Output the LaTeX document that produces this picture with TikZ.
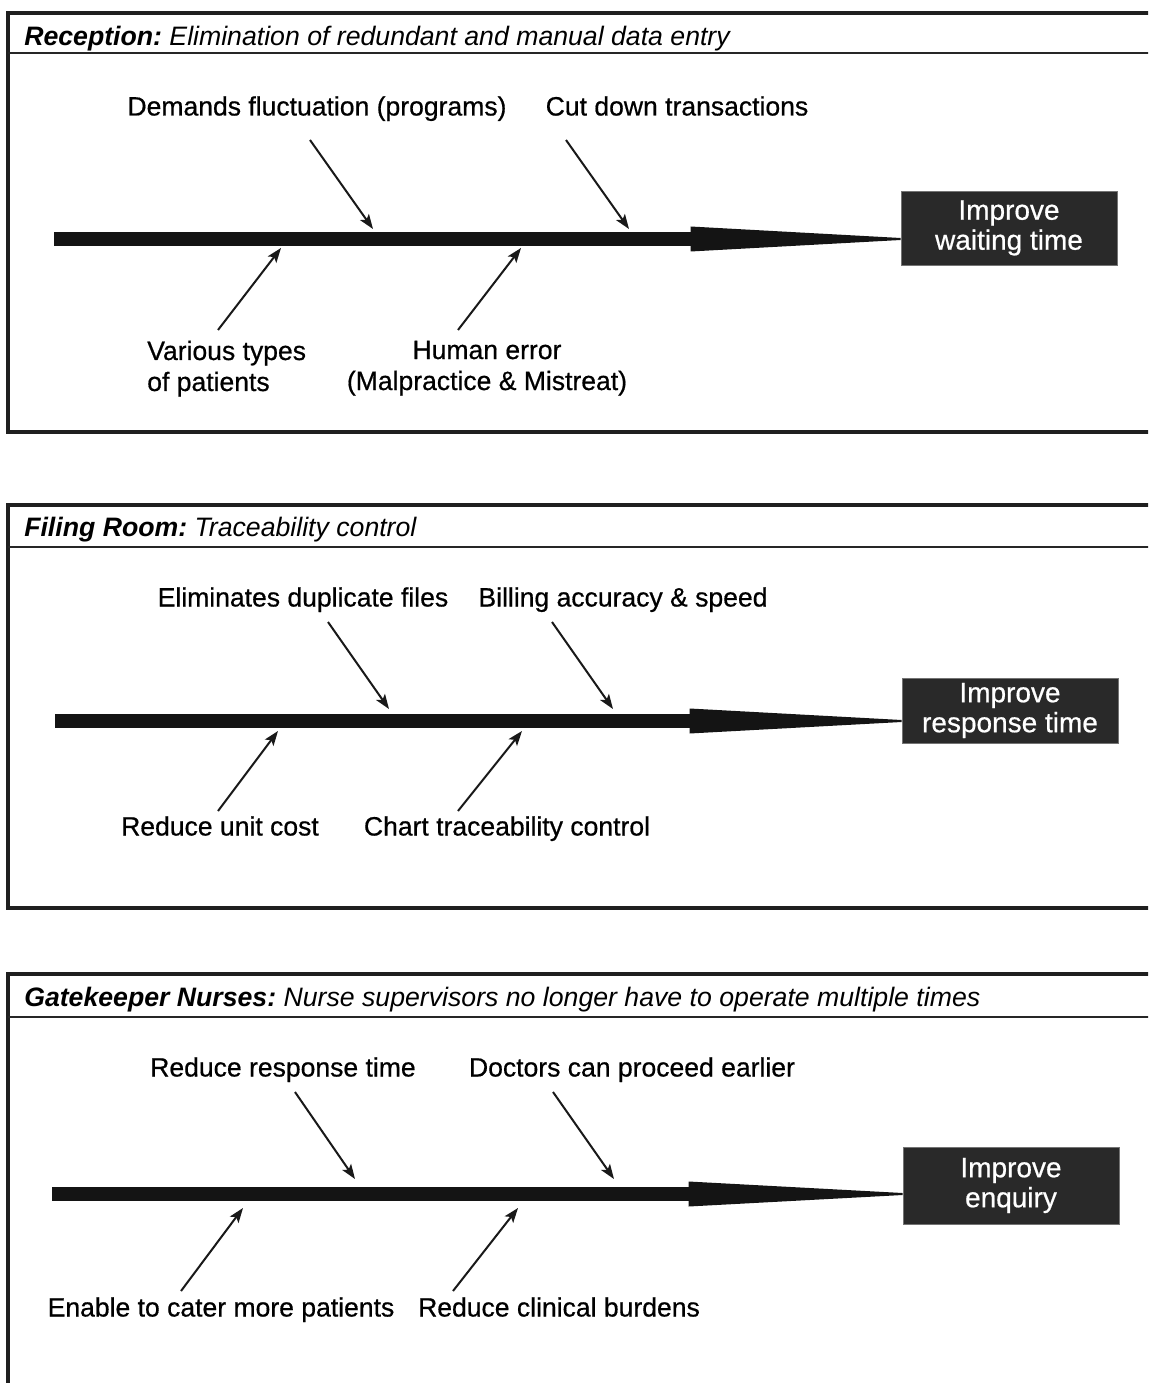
\documentclass[tikz,border=0pt]{standalone}
\usepackage{fontspec}
\setmainfont{Liberation Sans}
\newfontfamily\heavysans[FakeBold=0.6]{Liberation Sans}
\usetikzlibrary{arrows.meta,calc}
\begin{document}
\begin{tikzpicture}[x=0.75pt,y=-0.75pt,
  frame/.style={line width=2.3pt, draw=black!88},
  sepline/.style={line width=1.4pt, draw=black!85},
  ttl/.style={anchor=base west, inner sep=0pt, font=\fontsize{20}{24}\selectfont},
  lbl/.style={anchor=base, inner sep=0pt, font=\heavysans\fontsize{19.9}{23.25}\selectfont},
  lbl2/.style={anchor=north, inner sep=0pt, align=center, font=\heavysans\fontsize{19.9}{23.25}\selectfont},
  goal/.style={fill=black!84, draw=black!55, line width=0.6pt, text=white, align=center,
    inner sep=0pt, minimum width=162pt, font=\heavysans\fontsize{21}{22.5}\selectfont},
  spine/.style={line width=11pt, draw=black!92},
  head/.style={fill=black!92},
  cause/.style={line width=1.5pt, draw=black!90, -{Stealth[length=11pt,width=8pt,inset=2.5pt]}}
]
\clip (0,0) rectangle (1148,1383);
\fill[white] (0,0) rectangle (1148,1383);

% ---------- Panel 1 ----------
\draw[frame] (1160,13) -- (8,13) -- (8,432) -- (1160,432);
\draw[sepline] (8,53) -- (1160,53);
\node[ttl] (t1) at (24,45.5) {\bfseries\itshape Reception:\mdseries\ Elimination of redundant and manual data entry};

\coordinate (s1) at (54,239);
\node[goal, minimum height=55.5pt] (b1) at (1009,228) {Improve\\waiting time};
\coordinate (e1) at (b1.west |- s1);
\draw[spine] (s1) -- ($(e1)+(-208,0)$);
\fill[head] ($(e1)+(-210,-12.5)$) -- ($(e1)+(-210,12.5)$) -- ($(e1)+(0,1)$) -- ($(e1)+(0,-1)$) -- cycle;

\node[lbl] (l11) at (317,115.5) {Demands fluctuation (programs)};
\node[lbl] (l12) at (677,115.5) {Cut down transactions};
\node[lbl2, align=left, anchor=north west] (l13) at (147,340.5) {Various types\\ of patients};
\node[lbl2] (l14) at (487,340.5) {Human error\\(Malpractice \& Mistreat)};
\coordinate (a11) at (310,140); \coordinate (h11) at (373,229);
\coordinate (a12) at (566,140); \coordinate (h12) at (629,229);
\coordinate (a13) at (218,330); \coordinate (h13) at (281,248);
\coordinate (a14) at (458,330); \coordinate (h14) at (521,248);
\draw[cause] (a11) -- (h11);
\draw[cause] (a12) -- (h12);
\draw[cause] (a13) -- (h13);
\draw[cause] (a14) -- (h14);

% ---------- Panel 2 ----------
\draw[frame] (1160,505) -- (8,505) -- (8,908) -- (1160,908);
\draw[sepline] (8,547) -- (1160,547);
\node[ttl] (t2) at (24,536.5) {\bfseries\itshape Filing Room:\mdseries\ Traceability control};

\coordinate (s2) at (55,721);
\node[goal, minimum height=48.75pt] (b2) at (1010,710.5) {Improve\\response time};
\coordinate (e2) at (b2.west |- s2);
\draw[spine] (s2) -- ($(e2)+(-208,0)$);
\fill[head] ($(e2)+(-212,-12.5)$) -- ($(e2)+(-212,12.5)$) -- ($(e2)+(0,1)$) -- ($(e2)+(0,-1)$) -- cycle;

\node[lbl] (l21) at (303,606.5) {Eliminates duplicate files};
\node[lbl] (l22) at (623,606.5) {Billing accuracy \& speed};
\node[lbl] (l23) at (220,835.5) {Reduce unit cost};
\node[lbl] (l24) at (507,835.5) {Chart traceability control};
\coordinate (a21) at (328,622); \coordinate (h21) at (389,709);
\coordinate (a22) at (552,622); \coordinate (h22) at (613,709);
\coordinate (a23) at (218,811); \coordinate (h23) at (278,731);
\coordinate (a24) at (458,811); \coordinate (h24) at (522,731);
\draw[cause] (a21) -- (h21);
\draw[cause] (a22) -- (h22);
\draw[cause] (a23) -- (h23);
\draw[cause] (a24) -- (h24);

% ---------- Panel 3 ----------
\draw[frame] (1160,974) -- (8,974) -- (8,1400);
\draw[sepline] (8,1017) -- (1160,1017);
\node[ttl] (t3) at (24,1006.5) {\bfseries\itshape Gatekeeper Nurses:\mdseries\ Nurse supervisors no longer have to operate multiple times};

\coordinate (s3) at (52,1194);
\node[goal, minimum height=57.75pt] (b3) at (1011,1185.5) {Improve\\enquiry};
\coordinate (e3) at (b3.west |- s3);
\draw[spine] (s3) -- ($(e3)+(-212,0)$);
\fill[head] ($(e3)+(-214,-12.5)$) -- ($(e3)+(-214,12.5)$) -- ($(e3)+(0,1)$) -- ($(e3)+(0,-1)$) -- cycle;

\node[lbl] (l31) at (283,1076.5) {Reduce response time};
\node[lbl] (l32) at (632,1076.5) {Doctors can proceed earlier};
\node[lbl] (l33) at (221,1316.5) {Enable to cater more patients};
\node[lbl] (l34) at (559,1316.5) {Reduce clinical burdens};
\coordinate (a31) at (295,1092); \coordinate (h31) at (355,1179);
\coordinate (a32) at (553,1092); \coordinate (h32) at (614,1179);
\coordinate (a33) at (181,1291); \coordinate (h33) at (243,1208);
\coordinate (a34) at (453,1291); \coordinate (h34) at (518,1208);
\draw[cause] (a31) -- (h31);
\draw[cause] (a32) -- (h32);
\draw[cause] (a33) -- (h33);
\draw[cause] (a34) -- (h34);
\end{tikzpicture}
\end{document}
